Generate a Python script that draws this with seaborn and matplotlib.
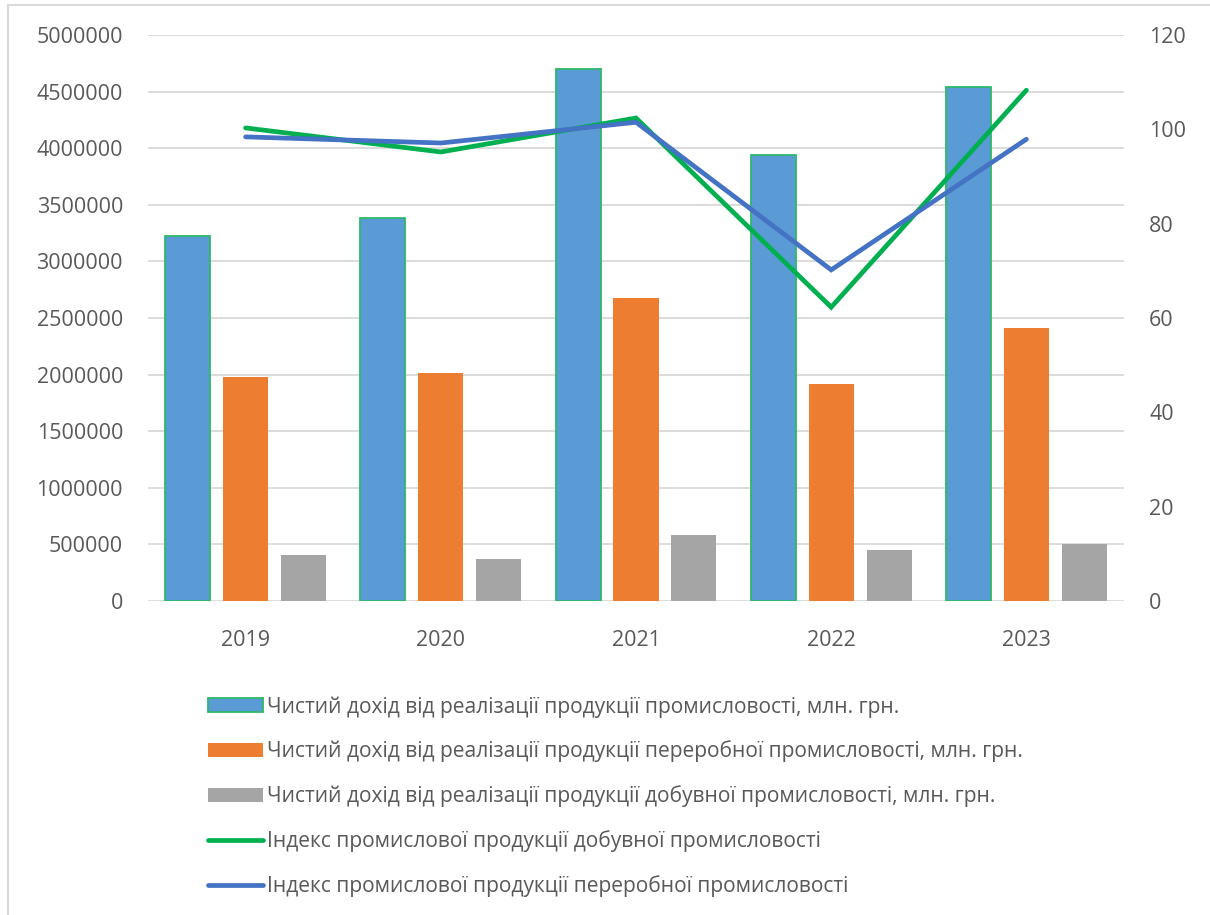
import matplotlib
matplotlib.use("Agg")
import matplotlib.pyplot as plt
from matplotlib.lines import Line2D
from matplotlib.ticker import MultipleLocator, FuncFormatter
import pandas as pd
import seaborn as sns

years = ["2019", "2020", "2021", "2022", "2023"]

income_total = [3224000, 3383000, 4700000, 3940000, 4541000]
income_processing = [1979000, 2014000, 2677000, 1917000, 2412000]
income_mining = [406000, 371000, 583000, 450000, 504000]

index_mining = [100.3, 95.2, 102.4, 62.3, 108.3]
index_processing = [98.4, 97.1, 101.5, 70.2, 97.9]

bar_labels = [
    "Чистий дохід від реалізації продукції промисловості, млн. грн.",
    "Чистий дохід від реалізації продукції переробної промисловості, млн. грн.",
    "Чистий дохід від реалізації продукції добувної промисловості, млн. грн.",
]
line_labels = [
    "Індекс промислової продукції добувної промисловості",
    "Індекс промислової продукції переробної промисловості",
]

bar_colors = ["#5B9BD5", "#ED7D31", "#A5A5A5"]
line_colors = ["#00B050", "#4472C4"]
text_color = "#595959"
grid_color = "#D9D9D9"

sns.set_theme(style="white")
plt.rcParams["font.family"] = ["Open Sans", "DejaVu Sans"]
plt.rcParams["text.color"] = text_color

bars = pd.DataFrame({
    "year": years * 3,
    "value": income_total + income_processing + income_mining,
    "series": [bar_labels[0]] * 5 + [bar_labels[1]] * 5 + [bar_labels[2]] * 5,
})
lines = pd.DataFrame({
    "x": list(range(5)) * 2,
    "value": index_mining + index_processing,
    "series": [line_labels[0]] * 5 + [line_labels[1]] * 5,
})

fig = plt.figure(figsize=(12.1, 9.15), dpi=100)
ax = fig.add_axes([148 / 1210, 1 - 601 / 915, (1124 - 148) / 1210, (601 - 35) / 915])

sns.barplot(data=bars, x="year", y="value", hue="series", hue_order=bar_labels,
            palette=bar_colors, width=0.89, gap=0.22, saturation=1,
            linewidth=0, ax=ax, zorder=2)
for patch in ax.containers[0]:
    patch.set_edgecolor("#2DB86A")
    patch.set_linewidth(1.3)

ax.set_ylim(0, 5000000)
ax.yaxis.set_major_locator(MultipleLocator(500000))
ax.yaxis.set_major_formatter(FuncFormatter(lambda v, p: f"{int(v)}"))
ax.grid(axis="y", color=grid_color, linewidth=1.3, zorder=0)
ax.set_axisbelow(True)
ax.set_xlabel("")
ax.set_ylabel("")
for s in ax.spines.values():
    s.set_visible(False)
ax.tick_params(axis="y", length=0, pad=18, labelsize=15.5, labelcolor=text_color)
ax.tick_params(axis="x", length=0, pad=21, labelsize=15.5, labelcolor=text_color)

ax2 = ax.twinx()
sns.lineplot(data=lines, x="x", y="value", hue="series", hue_order=line_labels,
             palette=line_colors, linewidth=3.4, ax=ax2,
             solid_capstyle="round", solid_joinstyle="miter")
ax2.set_ylim(0, 120)
ax2.yaxis.set_major_locator(MultipleLocator(20))
ax2.set_ylabel("")
ax2.set_xlabel("")
for s in ax2.spines.values():
    s.set_visible(False)
ax2.tick_params(axis="y", length=0, pad=18, labelsize=15.5, labelcolor=text_color)
ax.set_xlim(-0.5, 4.5)
ax2.set_xlim(-0.5, 4.5)

h1, l1 = ax.get_legend_handles_labels()
h2, l2 = ax2.get_legend_handles_labels()
ax.get_legend().remove()
ax2.get_legend().remove()
h1[0].set_edgecolor("#2DB86A")
h1[0].set_linewidth(1.3)
for h in h2:
    h.set_linewidth(3.4)
    h.set_solid_capstyle("round")

fig.legend(h1 + h2, l1 + l2, loc="upper left",
           bbox_to_anchor=(208 / 1210, 1 - 696 / 915),
           frameon=False, fontsize=15.1, labelcolor=text_color,
           handlelength=2.6, handleheight=0.65, handletextpad=0.22,
           labelspacing=1.1, borderpad=0, borderaxespad=0)

# thin frame on the top and left edges of the canvas
fig.add_artist(Line2D([8 / 1210, 8 / 1210], [0, 1 - 5 / 915], transform=fig.transFigure,
                      color="#D9D9D9", linewidth=1.5))
fig.add_artist(Line2D([8 / 1210, 1], [1 - 5 / 915, 1 - 5 / 915], transform=fig.transFigure,
                      color="#D9D9D9", linewidth=1.5))

fig.savefig("out.png", dpi=100, facecolor="white")
